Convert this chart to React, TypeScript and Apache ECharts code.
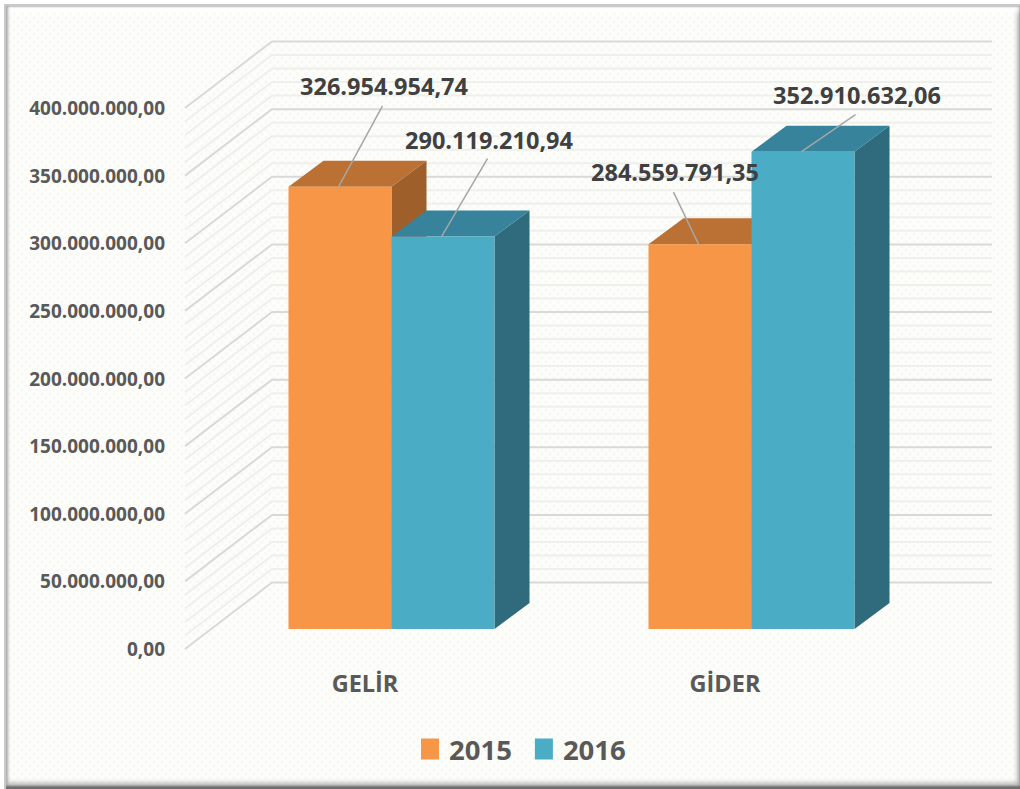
import React, { useEffect, useRef } from "react";
import * as echarts from "echarts";

const categories = ["GELİR", "GİDER"];
const values2015 = [326954954.74, 284559791.35];
const values2016 = [290119210.94, 352910632.06];
const majorTicks = [0, 50000000, 100000000, 150000000, 200000000, 250000000, 300000000, 350000000, 400000000];
const minorTicks = [
  10000000, 20000000, 30000000, 40000000,
  60000000, 70000000, 80000000, 90000000,
  110000000, 120000000, 130000000, 140000000,
  160000000, 170000000, 180000000, 190000000,
  210000000, 220000000, 230000000, 240000000,
  260000000, 270000000, 280000000, 290000000,
  310000000, 320000000, 330000000, 340000000,
  360000000, 370000000, 380000000, 390000000,
];

// Oblique projection: pixel offsets from the axis plane
const WALL = { dx: 87, dy: -66.5 };
const BAR_FRONT = { dx: 26.5, dy: -20 };
const BAR_BACK = { dx: 61.5, dy: -46 };
const BAR_W = 103;

const palette = {
  2015: { front: "#F79646", top: "#BB7133", side: "#9E5F2B" },
  2016: { front: "#4BACC6", top: "#37839B", side: "#306B7D" },
};

// [series, category index, leader end dx, dy from the bar's front top centre]
const calloutLayout = [
  { s: 0, c: 0, dx: 44, dy: -81, ty: -20 },
  { s: 1, c: 0, dx: 46, dy: -78, ty: -19 },
  { s: 0, c: 1, dx: -25, dy: -52, ty: -20 },
  { s: 1, c: 1, dx: 54, dy: -37, ty: -20 },
];

function fmt(v: number): string {
  const [i, d] = v.toFixed(2).split(".");
  return i.replace(/\B(?=(\d{3})+(?!\d))/g, ".") + "," + d;
}

const FONT = "'Open Sans', sans-serif";

function gridRender(color: string, width: number) {
  return (params: any, api: any) => {
    const cs = params.coordSys;
    const y = api.coord([0, api.value(0)])[1];
    const x0 = cs.x;
    const x1 = cs.x + WALL.dx;
    const x2 = cs.x + cs.width + WALL.dx;
    return {
      type: "polyline",
      silent: true,
      shape: { points: [[x0, y], [x1, y + WALL.dy], [x2, y + WALL.dy]] },
      style: { fill: "none", stroke: color, lineWidth: width },
    };
  };
}

function barRender(seriesIdx: number, col: { front: string; top: string; side: string }) {
  return (_p: any, api: any) => {
    const catIdx = api.value(0);
    const v = api.value(1);
    const c = api.coord([catIdx, v]);
    const b = api.coord([catIdx, 0]);
    const xl = c[0] + BAR_FRONT.dx + (seriesIdx === 0 ? -BAR_W : 0);
    const xr = xl + BAR_W;
    const yt = c[1] + BAR_FRONT.dy;
    const yb = b[1] + BAR_FRONT.dy;
    const ox = BAR_BACK.dx - BAR_FRONT.dx;
    const oy = BAR_BACK.dy - BAR_FRONT.dy;
    return {
      type: "group",
      children: [
        { type: "polygon", shape: { points: [[xr, yt], [xr + ox, yt + oy], [xr + ox, yb + oy], [xr, yb]] }, style: { fill: col.side } },
        { type: "polygon", shape: { points: [[xl, yt], [xl + ox, yt + oy], [xr + ox, yt + oy], [xr, yt]] }, style: { fill: col.top } },
        { type: "rect", shape: { x: xl, y: yt, width: BAR_W, height: yb - yt }, style: { fill: col.front } },
      ],
    };
  };
}

function calloutRender(_p: any, api: any) {
  const s = api.value(0);
  const catIdx = api.value(1);
  const v = api.value(2);
  const lay = calloutLayout[api.value(3)];
  const c = api.coord([catIdx, v]);
  const x = c[0] + BAR_FRONT.dx + (s === 0 ? -BAR_W / 2 : BAR_W / 2);
  const y = c[1] + BAR_FRONT.dy;
  return {
    type: "group",
    children: [
      { type: "line", shape: { x1: x - 1.5, y1: y, x2: x + lay.dx - 1.5, y2: y + lay.dy }, style: { stroke: "#A6A6A6", lineWidth: 1.5 } },
      {
        type: "text",
        x: x + lay.dx,
        y: y + lay.dy + lay.ty,
        style: {
          text: fmt(v),
          fill: "#404040",
          font: `700 23.5px ${FONT}`,
          align: "center",
          verticalAlign: "middle",
        },
      },
    ],
  };
}

export default function App() {
  const ref = useRef<HTMLDivElement>(null);
  useEffect(() => {
    const chart = echarts.init(ref.current!, undefined, { renderer: "svg" });
    const values = [values2015, values2016];
    chart.setOption({
      animation: false,
      backgroundColor: "transparent",
      grid: { left: 185, top: 108, width: 720, height: 541, containLabel: false },
      xAxis: {
        type: "category",
        data: categories,
        axisLine: { show: false },
        axisTick: { show: false },
        splitLine: { show: false },
        axisLabel: { color: "#595959", fontFamily: FONT, fontWeight: 700, fontSize: 23.5, margin: 22 },
      },
      yAxis: {
        type: "value",
        min: 0,
        max: 400000000,
        interval: 50000000,
        axisLine: { show: false },
        axisTick: { show: false },
        splitLine: { show: false },
        axisLabel: { color: "#595959", fontFamily: FONT, fontWeight: 700, fontSize: 19, margin: 20, formatter: (v: number) => fmt(v) },
      },
      legend: {
        data: ["2015", "2016"],
        left: 416,
        top: 730,
        icon: "rect",
        itemWidth: 18,
        itemHeight: 21,
        itemGap: 23,
        selectedMode: false,
        textStyle: { color: "#595959", fontFamily: FONT, fontWeight: 700, fontSize: 27.5, padding: [0, 0, 0, 5] },
      },
      series: [
        { type: "custom", name: "minor", silent: true, z: 1, data: minorTicks.map((t) => [t]), encode: { y: 0 }, renderItem: gridRender("#EFEFEC", 2) },
        { type: "custom", name: "major", silent: true, z: 2, data: majorTicks.map((t) => [t]), encode: { y: 0 }, renderItem: gridRender("#D9D9D9", 2) },
        {
          type: "custom", name: "2015", z: 3, itemStyle: { color: palette[2015].front },
          data: values2015.map((v, i) => [i, v]), encode: { x: 0, y: 1 },
          renderItem: barRender(0, palette[2015]),
        },
        {
          type: "custom", name: "2016", z: 4, itemStyle: { color: palette[2016].front },
          data: values2016.map((v, i) => [i, v]), encode: { x: 0, y: 1 },
          renderItem: barRender(1, palette[2016]),
        },
        {
          type: "custom", name: "callouts", silent: true, z: 5,
          data: calloutLayout.map((l, i) => [l.s, l.c, values[l.s][l.c], i]), encode: { x: 1, y: 2 },
          renderItem: calloutRender,
        },
      ],
    });
    return () => chart.dispose();
  }, []);

  const dots =
    "radial-gradient(circle at 2px 2px, #f8f9f1 0, #f8f9f1 1.4px, transparent 1.8px)," +
    "radial-gradient(circle at 6px 6px, #f8f9f1 0, #f8f9f1 1.4px, transparent 1.8px)";

  return (
    <div style={{ position: "fixed", left: 0, top: 0, width: 1020, height: 789, background: "#fff", overflow: "hidden" }}>
      <div
        style={{
          position: "absolute", left: 4, top: 4, width: 1016, height: 785,
          backgroundColor: "#fdfdfb",
          backgroundImage: dots,
          backgroundSize: "8px 8px",
          boxShadow:
            "inset 2px 2px 0 #c8c8c8, inset 0 -3px 2px #6e6e6e, inset 0 -7px 5px -1px #b0b0b0, inset 5px 0 3px -1px #a8a8a8, inset 0 4px 2px -1px #b8b8b8, inset 0 12px 6px -4px #fff, inset -5px 0 4px -2px #bbb",
        }}
      />
      <div ref={ref} style={{ position: "absolute", left: 0, top: 0, width: 1020, height: 789 }} />
    </div>
  );
}
